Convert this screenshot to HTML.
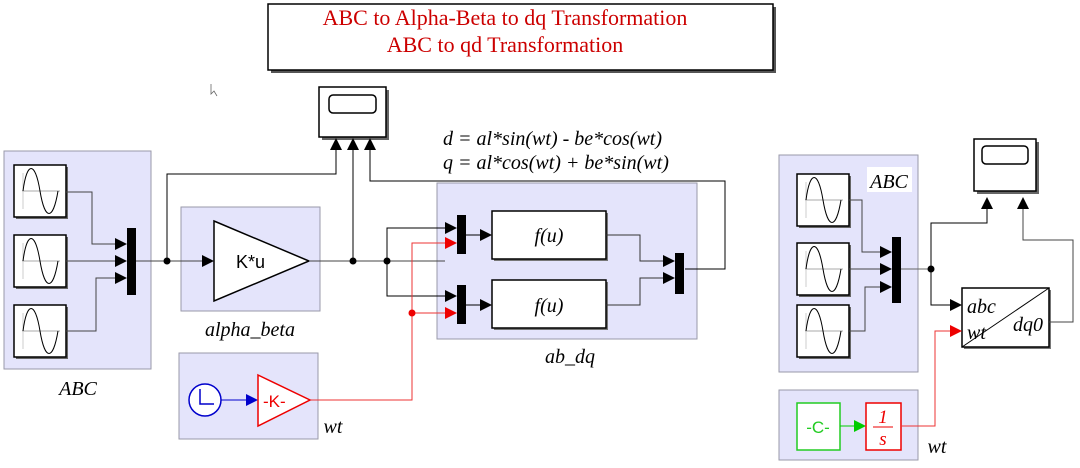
<!DOCTYPE html>
<html><head><meta charset="utf-8"><style>
body{margin:0;background:#fff;}
svg{display:block;font-family:"Liberation Serif",serif;}
.it{font-style:italic;}
</style></head><body>
<svg width="1080" height="468" viewBox="0 0 1080 468" xmlns="http://www.w3.org/2000/svg">
<defs>
<marker id="a" markerWidth="12" markerHeight="12" refX="11" refY="6" orient="auto" markerUnits="userSpaceOnUse"><path d="M0,0 L12,6 L0,12z" fill="#000"/></marker>
<marker id="r" markerWidth="12" markerHeight="12" refX="11" refY="6" orient="auto" markerUnits="userSpaceOnUse"><path d="M0,0 L12,6 L0,12z" fill="#e00"/></marker>
<marker id="b" markerWidth="12" markerHeight="12" refX="11" refY="6" orient="auto" markerUnits="userSpaceOnUse"><path d="M0,0 L12,6 L0,12z" fill="#00c"/></marker>
<marker id="g" markerWidth="12" markerHeight="12" refX="11" refY="6" orient="auto" markerUnits="userSpaceOnUse"><path d="M0,0 L12,6 L0,12z" fill="#0c0"/></marker>
<g id="sine"><rect x="2" y="2" width="52" height="52" fill="#666"/><rect x="0" y="0" width="52" height="52" fill="#fff" stroke="#000" stroke-width="1.5"/><line x1="8" y1="26" x2="46" y2="26" stroke="#aaa"/><line x1="9" y1="8" x2="9" y2="44" stroke="#ccc"/><path d="M9,26 C13,-4 21,-4 26,26 C31,56 39,56 44,26" fill="none" stroke="#000"/></g>
</defs>

<rect x="271" y="7" width="505" height="66" fill="#555"/>
<rect x="268" y="4" width="505" height="66" fill="#fff" stroke="#000" stroke-width="1.5"/>
<text x="505" y="25" font-size="22" fill="#c00" text-anchor="middle">ABC to Alpha-Beta to dq Transformation</text>
<text x="505" y="52" font-size="22" fill="#c00" text-anchor="middle">ABC to qd Transformation</text>

<rect x="4" y="151" width="147" height="218" fill="#e4e4fb" stroke="#99a"/>
<rect x="181" y="207" width="139" height="104" fill="#e4e4fb" stroke="#99a"/>
<rect x="179" y="353" width="139" height="86" fill="#e4e4fb" stroke="#99a"/>
<rect x="437" y="183" width="260" height="156" fill="#e4e4fb" stroke="#99a"/>
<rect x="779" y="155" width="139" height="217" fill="#e4e4fb" stroke="#99a"/>
<rect x="779" y="390" width="139" height="70" fill="#e4e4fb" stroke="#99a"/>

<use href="#sine" x="14" y="165"/><use href="#sine" x="14" y="235"/><use href="#sine" x="14" y="305"/>
<rect x="127" y="228" width="9" height="67" fill="#000"/>
<path d="M66,192 H92 V244 H126" fill="none" stroke="#444" marker-end="url(#a)"/>
<path d="M66,261 H126" fill="none" stroke="#444" marker-end="url(#a)"/>
<path d="M66,331 H96 V278 H126" fill="none" stroke="#444" marker-end="url(#a)"/>
<text x="78" y="395" font-size="20" class="it" text-anchor="middle">ABC</text>

<path d="M136,261 H213" fill="none" stroke="#444" marker-end="url(#a)"/>
<circle cx="167" cy="261" r="3.5"/>
<path d="M214,221 L309,261 L214,301z" fill="#fff" stroke="#000" stroke-width="1.5"/>
<text x="236" y="268" font-size="18" font-family="Liberation Sans,sans-serif">K*u</text>
<text x="250" y="336" font-size="20" class="it" text-anchor="middle">alpha_beta</text>

<rect x="322" y="90" width="67" height="50" fill="#666"/>
<rect x="319" y="87" width="67" height="50" fill="#fff" stroke="#000" stroke-width="1.5"/>
<rect x="329" y="95" width="47" height="18" rx="4" fill="#fff" stroke="#000" stroke-width="1.5"/>
<path d="M167,261 V174 H336 V139" fill="none" stroke="#000" marker-end="url(#a)"/>
<path d="M309,261 H445" fill="none" stroke="#444"/>
<path d="M353,261 V139" fill="none" stroke="#000" marker-end="url(#a)"/>
<circle cx="353" cy="261" r="3.5"/>
<path d="M685,269 H725 V181 H370 V139" fill="none" stroke="#000" marker-end="url(#a)"/>

<text x="443" y="145" font-size="20" class="it">d = al*sin(wt) - be*cos(wt)</text>
<text x="443" y="169" font-size="20" class="it">q = al*cos(wt) + be*sin(wt)</text>

<circle cx="387" cy="261" r="3.5"/>
<path d="M387,261 V228 H456" fill="none" stroke="#000" marker-end="url(#a)"/>
<path d="M387,261 V296 H456" fill="none" stroke="#000" marker-end="url(#a)"/>
<path d="M310,400 H412 V243 H456" fill="none" stroke="#e33" marker-end="url(#r)"/>
<path d="M412,313 H456" fill="none" stroke="#e33" marker-end="url(#r)"/>
<circle cx="412" cy="313" r="3.5" fill="#e00"/>
<rect x="457" y="215" width="9" height="39" fill="#000"/>
<rect x="457" y="285" width="9" height="39" fill="#000"/>
<path d="M466,235 H491" stroke="#000" marker-end="url(#a)"/>
<path d="M466,305 H491" stroke="#000" marker-end="url(#a)"/>
<rect x="494" y="213" width="114" height="48" fill="#777"/>
<rect x="492" y="211" width="114" height="48" fill="#fff" stroke="#000" stroke-width="1.5"/>
<rect x="494" y="282" width="114" height="48" fill="#777"/>
<rect x="492" y="280" width="114" height="48" fill="#fff" stroke="#000" stroke-width="1.5"/>
<text x="549" y="242" font-size="20" class="it" text-anchor="middle">f(u)</text>
<text x="549" y="312" font-size="20" class="it" text-anchor="middle">f(u)</text>
<path d="M606,235 H640 V261 H674" fill="none" stroke="#333" marker-end="url(#a)"/>
<path d="M606,305 H640 V278 H674" fill="none" stroke="#333" marker-end="url(#a)"/>
<rect x="675" y="253" width="9" height="41" fill="#000"/>
<text x="570" y="363" font-size="20" class="it" text-anchor="middle">ab_dq</text>

<circle cx="205" cy="400" r="16" fill="#fff" stroke="#00c" stroke-width="1.5"/>
<path d="M200,389 V404 H214" fill="none" stroke="#00c" stroke-width="1.5"/>
<path d="M221,400 H257" stroke="#00c" marker-end="url(#b)"/>
<path d="M258,375 L310,400 L258,426z" fill="#fff" stroke="#e00" stroke-width="1.5"/>
<text x="263" y="407" font-size="17" fill="#e00" font-family="Liberation Sans,sans-serif">-K-</text>
<text x="333" y="433" font-size="20" class="it" text-anchor="middle">wt</text>

<use href="#sine" x="797" y="174"/><use href="#sine" x="797" y="243"/><use href="#sine" x="797" y="305"/>
<rect x="867" y="167" width="45" height="25" fill="#fff"/>
<text x="889" y="188" font-size="20" class="it" text-anchor="middle">ABC</text>
<rect x="892" y="237" width="9" height="66" fill="#000"/>
<path d="M849,200 H862 V252 H891" fill="none" stroke="#444" marker-end="url(#a)"/>
<path d="M849,269 H891" fill="none" stroke="#444" marker-end="url(#a)"/>
<path d="M849,331 H865 V287 H891" fill="none" stroke="#444" marker-end="url(#a)"/>
<path d="M901,269 H931" stroke="#666"/>
<circle cx="931" cy="269" r="3.5"/>
<path d="M931,269 V223 H987 V198" fill="none" stroke="#000" marker-end="url(#a)"/>
<path d="M931,269 V305 H961" fill="none" stroke="#000" marker-end="url(#a)"/>
<rect x="977" y="142" width="62" height="52" fill="#666"/>
<rect x="974" y="139" width="62" height="52" fill="#fff" stroke="#000" stroke-width="1.5"/>
<rect x="982" y="146" width="46" height="18" rx="4" fill="#fff" stroke="#000" stroke-width="1.5"/>
<rect x="964" y="290" width="87" height="59" fill="#777"/>
<rect x="962" y="288" width="87" height="59" fill="#fff" stroke="#000" stroke-width="1.5"/>
<line x1="962" y1="347" x2="1049" y2="288" stroke="#000"/>
<text x="967" y="313" font-size="20" class="it">abc</text>
<text x="967" y="339" font-size="20" class="it">wt</text>
<text x="1013" y="331" font-size="20" class="it">dq0</text>
<path d="M1049,322 H1073 V240 H1023 V198" fill="none" stroke="#444" marker-end="url(#a)"/>
<rect x="797" y="403" width="43" height="47" fill="#fff" stroke="#2c2" stroke-width="1.5"/>
<text x="818" y="433" font-size="17" fill="#2c2" font-family="Liberation Sans,sans-serif" text-anchor="middle">-C-</text>
<path d="M840,426 H865" stroke="#0c0" marker-end="url(#g)"/>
<rect x="866" y="403" width="35" height="47" fill="#fff" stroke="#e00" stroke-width="1.5"/>
<text x="883" y="423" font-size="19" class="it" fill="#e00" text-anchor="middle">1</text>
<line x1="873" y1="427" x2="893" y2="427" stroke="#e00"/>
<text x="883" y="445" font-size="19" class="it" fill="#e00" text-anchor="middle">s</text>
<path d="M901,426 H935 V331 H961" fill="none" stroke="#e33" marker-end="url(#r)"/>
<text x="937" y="453" font-size="20" class="it" text-anchor="middle">wt</text>

<path d="M211,84 L211,94 L214,91 L217,96" fill="#fff" stroke="#666" stroke-width="0.8"/>
</svg>
</body></html>
